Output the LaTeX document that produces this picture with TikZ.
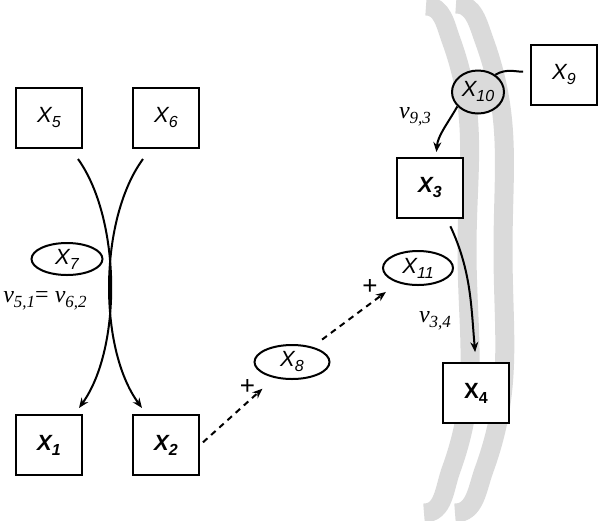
\documentclass[tikz,border=0pt]{standalone}
\usepackage{fontspec}
\setmainfont{Liberation Serif}
\setsansfont{Liberation Sans}
\usetikzlibrary{shapes.geometric,arrows.meta}
\definecolor{bandgray}{RGB}{218,218,218}
\newcommand{\xlab}[1]{X\raisebox{-5pt}{\fontsize{16}{16}\selectfont #1}}
\newcommand{\vlab}[1]{\textit{v}\raisebox{-5pt}{\fontsize{17}{17}\selectfont\textit{#1}}}
\tikzset{
	varbox/.style={draw, line width=2pt, fill=white, minimum width=66pt, minimum height=60pt, inner sep=0pt, font=\sffamily\fontsize{22}{24}\selectfont\itshape},
	boldbox/.style={varbox, font=\sffamily\fontsize{22}{24}\selectfont\bfseries\itshape},
	latent/.style={ellipse, draw, line width=2pt, fill=white, inner sep=0pt, font=\sffamily\fontsize{22}{24}\selectfont\itshape},
	conn/.style={line width=2pt},
	arr/.style={conn, -{Stealth[length=10pt,width=8pt]}},
	dasharr/.style={arr, dash pattern=on 6pt off 5pt},
	band/.style={line width=19pt, bandgray},
	coef/.style={font=\fontsize{24}{26}\selectfont},
	plus/.style={font=\sffamily\fontsize{26}{26}\selectfont, inner sep=0pt}
}
\begin{document}
\begin{tikzpicture}[x=1pt,y=-1pt]
	\useasboundingbox (0,0) rectangle (601,520);
	% gray bands
	\draw[band] (426,6) to[out=0,in=110] (451,40) to[out=-70,in=90] (467,250)
		to[out=-90,in=70] (451,470) to[out=-110,in=0] (424,513);
	\draw[band] (456,4) to[out=0,in=110] (484,40) to[out=-70,in=90] (503,250)
		to[out=-90,in=70] (484,470) to[out=-110,in=0] (455,513);
	
	% variables
	\node [varbox] (X5) at (49,118) {\xlab{5}};
	\node [varbox] (X6) at (166,118) {\xlab{6}};
	\node [boldbox] (X1) at (49,445) {\xlab{1}};
	\node [boldbox] (X2) at (166,445) {\xlab{2}};
	\node [boldbox] (X3) at (430,188) {\xlab{3}};
	\node [varbox, font=\sffamily\fontsize{22}{24}\selectfont\bfseries] (X4) at (476,393) {\xlab{4}};
	\node [varbox] (X9) at (564,75) {\xlab{9}};
	\node [latent, minimum width=71pt, minimum height=32pt] (X7) at (67,259) {\xlab{7}};
	\node [latent, minimum width=75pt, minimum height=34pt] (X8) at (292,362) {\xlab{8}};
	\node [latent, minimum width=70pt, minimum height=34pt] (X11) at (418,268) {\xlab{11}};
	\node [latent, minimum width=52pt, minimum height=43pt, fill=bandgray] (X10) at (478,92) {\xlab{10}};
	
	% coefficients
	\node [coef] (v51) at (45,301) {\vlab{5,1}= \vlab{6,2}};
	\node [coef] (v93) at (415,117) {\vlab{9,3}};
	\node [coef] (v34) at (435,321) {\vlab{3,4}};
	
	% edges
	\draw [arr] ([xshift=-5pt,yshift=-10pt]X5.south east) .. controls +(43,60) and +(43,-60) .. ([xshift=-4pt,yshift=6pt]X1.north east);
	\draw [arr] ([xshift=11pt,yshift=-10pt]X6.south west) .. controls +(-44,60) and +(-44,-60) .. ([xshift=10pt,yshift=6pt]X2.north west);
	\draw [dasharr, shorten <=4pt, shorten >=16pt] (X2.east) -- (X8)
		node [plus, pos=0.84, xshift=-15pt, yshift=2pt] (p1) {+};
	\draw [dasharr, shorten <=12pt, shorten >=15pt] (X8) -- (X11)
		node [plus, pos=0.86, xshift=-16pt, yshift=5pt] (p2) {+};
	\draw [conn, shorten <=7pt] ([yshift=4pt]X9.west) to[out=185,in=30] (X10.45);
	\draw [arr, shorten >=5pt] (X10.215) to[out=240,in=85] ([xshift=6pt]X3.north);
	\draw [arr, shorten <=8pt, shorten >=10pt] ([xshift=17pt]X3.south) to[out=-65,in=95] (X4.north);
\end{tikzpicture}
\end{document}
